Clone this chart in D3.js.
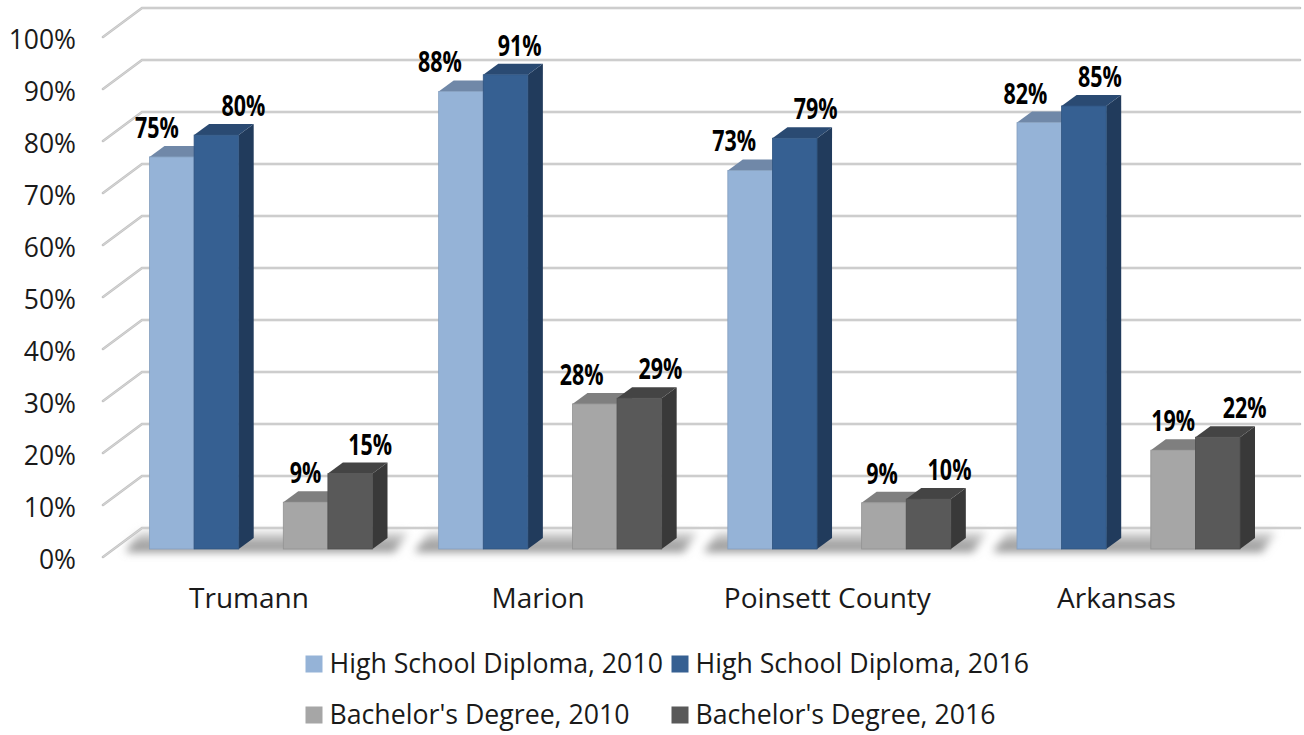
<!DOCTYPE html>
<html><head><meta charset="utf-8">
<script src="https://cdn.jsdelivr.net/npm/d3@7"></script>
<style>html,body{margin:0;padding:0;background:#fff}svg{display:block}text{font-family:"Open Sans",sans-serif}</style>
</head><body><svg id="c" width="1304" height="735"></svg>
<script>
const categories = ["Trumann","Marion","Poinsett County","Arkansas"];
const seriesNames = ["High School Diploma, 2010","High School Diploma, 2016","Bachelor's Degree, 2010","Bachelor's Degree, 2016"];
const hs2010 = [75.4,88,72.8,82];
const hs2016 = [79.6,91.2,79,85.2];
const ba2010 = [9,27.9,8.9,19];
const ba2016 = [14.5,29,9.6,21.5];
const yTicks = [0,10,20,30,40,50,60,70,80,90,100];

const allSeries = [hs2010,hs2016,ba2010,ba2016];
const slots = ["s0","s1","gap","s2","s3"];
const colors = [
 {front:"#95B3D7",top:"#7088A8",side:"#6E86A4"},
 {front:"#366092",top:"#2A4A72",side:"#213B5C"},
 {front:"#A6A6A6",top:"#7F7F7F",side:"#777777"},
 {front:"#595959",top:"#444444",side:"#393939"}
];
const svg = d3.select("#c");
const defs = svg.append("defs");
defs.append("filter").attr("id","blur").attr("x","-10%").attr("y","-60%").attr("width","120%").attr("height","220%")
  .append("feGaussianBlur").attr("stdDeviation",4.5);
const grad = defs.append("linearGradient").attr("id","floor").attr("gradientUnits","userSpaceOnUse")
  .attr("x1",0).attr("x2",0).attr("y1",530).attr("y2",553);
grad.append("stop").attr("offset",0).attr("stop-color","#e4e4e4");
grad.append("stop").attr("offset",1).attr("stop-color","#808080");

const cx = d3.scalePoint().domain(categories).range([261,1128.5]);
const slot = d3.scaleBand().domain(slots).range([-111.5,111.5]);
const yBar = d3.scaleLinear().domain([0,100]).range([549,29]);
const yBack = d3.scaleLinear().domain([0,100]).range([528,8]);
const yFront = d3.scaleLinear().domain([0,100]).range([557,37]);
const depthX = 15, depthY = 11;
const wallL = 142, wallF = 103, wallR = 1300;

// floor shadow
const shadow = svg.append("g").attr("filter","url(#blur)");
categories.forEach(c=>{
  const x0 = cx(c)+slot("s0"), x1 = cx(c)+slot("s3")+slot.bandwidth();
  const p = d3.path();
  p.moveTo(x0-24,yBar(0)+3); p.lineTo(x0-10,yBar(0)-17); p.lineTo(x1+36,yBar(0)-17); p.lineTo(x1+22,yBar(0)+3); p.closePath();
  shadow.append("path").attr("d",p).attr("fill","url(#floor)");
});

// gridlines
const gl = svg.append("g");
yTicks.forEach(t=>{
  const p = d3.path();
  p.moveTo(wallF,yFront(t)); p.lineTo(wallL,yBack(t)); p.lineTo(wallR,yBack(t));
  gl.append("path").attr("d",p).attr("fill","none").attr("stroke","#C4C4C4").attr("stroke-width",2.6).attr("stroke-linecap","round");
  gl.append("path").attr("d",p).attr("fill","none").attr("stroke","#D6D6D6").attr("stroke-width",1);
});

// bars
const bars = svg.append("g");
const b = slot.bandwidth();
categories.forEach((c,ci)=>{
  [[0,1],[2,3]].forEach(pair=>{
    pair.forEach(si=>{
      const v = allSeries[si][ci];
      const x = cx(c)+slot(slots[si<2?si:si+1]);
      const top = yBar(v), base = yBar(0);
      const col = colors[si];
      const side = d3.path();
      side.moveTo(x+b,top); side.lineTo(x+b+depthX,top-depthY); side.lineTo(x+b+depthX,base-depthY); side.lineTo(x+b,base); side.closePath();
      bars.append("path").attr("d",side).attr("fill",col.side);
      const tp = d3.path();
      tp.moveTo(x,top); tp.lineTo(x+depthX,top-depthY); tp.lineTo(x+b+depthX,top-depthY); tp.lineTo(x+b,top); tp.closePath();
      bars.append("path").attr("d",tp).attr("fill",col.top);
      bars.append("rect").attr("x",x).attr("y",top).attr("width",b).attr("height",base-top).attr("fill",col.front)
        .attr("stroke",d3.color(col.front).darker(0.35)).attr("stroke-width",0.8);
    });
  });
});

// y tick labels
svg.append("g").selectAll("text").data(yTicks).join("text")
  .attr("x",76).attr("y",d=>yFront(d)+11.5).attr("text-anchor","end")
  .attr("font-size",26.5).attr("fill","#1a1a1a").text(d=>d+"%");

// category labels
svg.append("g").selectAll("text").data(categories).join("text")
  .attr("x",d=>cx(d)-12).attr("y",608).attr("text-anchor","middle")
  .attr("font-size",28).attr("fill","#1a1a1a").text(d=>d);

// value labels (hand-placed horizontally in the original)
const nudge = [[-15,-21,-16,-14],[27,14,21,16],[0,-13,-2,0],[20,21,21,27]];
const lab = svg.append("g");
categories.forEach((c,ci)=>{
  allSeries.forEach((s,si)=>{
    const x = cx(c)+slot(slots[si<2?si:si+1])+b/2+nudge[si][ci];
    const y = yBar(s[ci])-29+10;
    lab.append("text").attr("transform",`translate(${x},${y}) scale(0.74,1)`)
      .attr("text-anchor","middle").attr("font-size",29).attr("font-weight",700).attr("fill","#000")
      .text(Math.round(s[ci])+"%");
  });
});

// legend
const legX = [305.5,671.5], legY = [663.5,714.5];
const leg = svg.append("g");
seriesNames.forEach((n,i)=>{
  const lx = legX[i%2], ly = legY[Math.floor(i/2)];
  leg.append("rect").attr("x",lx).attr("y",ly-8).attr("width",17).attr("height",17).attr("fill",colors[i].front);
  leg.append("text").attr("x",lx+24).attr("y",ly+9).attr("font-size",26.7).attr("fill","#1a1a1a").text(n);
});
</script></body></html>
